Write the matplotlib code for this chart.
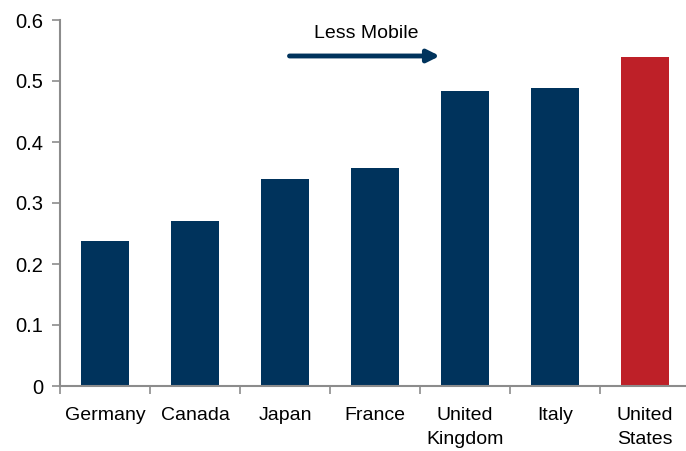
import matplotlib.pyplot as plt

plt.rcParams['font.family'] = ['Liberation Sans', 'DejaVu Sans']

countries = ['Germany', 'Canada', 'Japan', 'France', 'United\nKingdom', 'Italy', 'United\nStates']
values = [0.238, 0.270, 0.340, 0.358, 0.483, 0.488, 0.540]
navy = '#00335C'
red = '#BE2028'
colors = [navy] * 6 + [red]
axis_grey = '#8C8C8C'

fig = plt.figure(figsize=(6.86, 4.51), dpi=100)
ax = fig.add_axes([60 / 686, 65 / 451, 630 / 686, 366 / 451])

pos = list(range(len(countries)))
ax.bar(pos, values, width=0.53, color=colors, zorder=2)

ax.set_xlim(-0.5, len(countries) - 0.5)
ax.set_ylim(0, 0.6)
ax.set_yticks([0, 0.1, 0.2, 0.3, 0.4, 0.5, 0.6])
ax.set_yticklabels(['0', '0.1', '0.2', '0.3', '0.4', '0.5', '0.6'])

# category labels centred, tick marks on the boundaries between them
ax.set_xticks(pos)
ax.set_xticklabels(countries, linespacing=1.55)
ax.set_xticks([p - 0.5 for p in pos] + [len(countries) - 0.5], minor=True)
ax.tick_params(axis='x', which='major', length=0, pad=15, labelsize=14)
ax.tick_params(axis='x', which='minor', length=6, width=1.2, color=axis_grey)
ax.tick_params(axis='y', length=6, width=1.2, color=axis_grey, pad=6, labelsize=14.5)

for side in ['top', 'right']:
    ax.spines[side].set_visible(False)
for side in ['left', 'bottom']:
    ax.spines[side].set_color(axis_grey)
    ax.spines[side].set_linewidth(1.5)

ax.annotate('', xy=(3.72, 0.541), xytext=(2.05, 0.541),
            arrowprops=dict(arrowstyle='-|>', lw=3.5, color=navy,
                            mutation_scale=18, shrinkA=0, shrinkB=0))
ax.text(2.9, 0.578, 'Less Mobile', ha='center', va='center', fontsize=14)

fig.savefig('out.png', dpi=100)
